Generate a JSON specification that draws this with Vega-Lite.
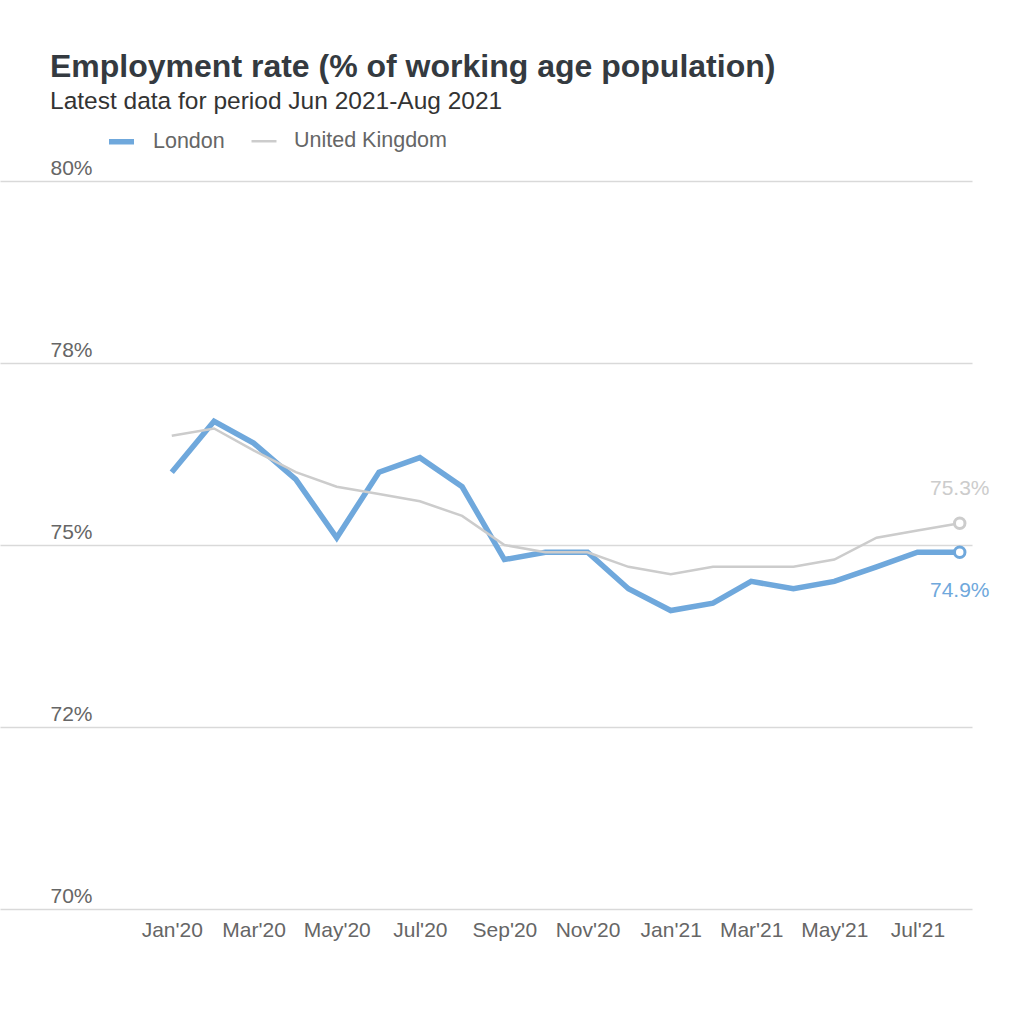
{
  "$schema": "https://vega.github.io/schema/vega-lite/v6.json",
  "width": 972,
  "height": 728,
  "autosize": {"type": "none"},
  "padding": {"left": 0, "top": 181, "right": 52, "bottom": 115},
  "background": "white",
  "title": {
    "text": "Employment rate (% of working age population)",
    "subtitle": "Latest data for period Jun 2021-Aug 2021",
    "anchor": "start",
    "frame": "group",
    "dx": 50,
    "offset": 12,
    "font": "Liberation Sans",
    "fontSize": 32,
    "fontWeight": "bold",
    "color": "#343a40",
    "subtitleFont": "Liberation Sans",
    "subtitleFontSize": 24.5,
    "subtitleColor": "#333333",
    "subtitlePadding": 6
  },
  "config": {
    "view": {"stroke": null},
    "font": "Liberation Sans"
  },
  "data": {
    "values": [
      {"month": "2020-01-01", "region": "London", "rate": 76.0},
      {"month": "2020-02-01", "region": "London", "rate": 76.7},
      {"month": "2020-03-01", "region": "London", "rate": 76.4},
      {"month": "2020-04-01", "region": "London", "rate": 75.9},
      {"month": "2020-05-01", "region": "London", "rate": 75.1},
      {"month": "2020-06-01", "region": "London", "rate": 76.0},
      {"month": "2020-07-01", "region": "London", "rate": 76.2},
      {"month": "2020-08-01", "region": "London", "rate": 75.8},
      {"month": "2020-09-01", "region": "London", "rate": 74.8},
      {"month": "2020-10-01", "region": "London", "rate": 74.9},
      {"month": "2020-11-01", "region": "London", "rate": 74.9},
      {"month": "2020-12-01", "region": "London", "rate": 74.4},
      {"month": "2021-01-01", "region": "London", "rate": 74.1},
      {"month": "2021-02-01", "region": "London", "rate": 74.2},
      {"month": "2021-03-01", "region": "London", "rate": 74.5},
      {"month": "2021-04-01", "region": "London", "rate": 74.4},
      {"month": "2021-05-01", "region": "London", "rate": 74.5},
      {"month": "2021-06-01", "region": "London", "rate": 74.7},
      {"month": "2021-07-01", "region": "London", "rate": 74.9},
      {"month": "2021-08-01", "region": "London", "rate": 74.9},
      {"month": "2020-01-01", "region": "United Kingdom", "rate": 76.5},
      {"month": "2020-02-01", "region": "United Kingdom", "rate": 76.6},
      {"month": "2020-03-01", "region": "United Kingdom", "rate": 76.3},
      {"month": "2020-04-01", "region": "United Kingdom", "rate": 76.0},
      {"month": "2020-05-01", "region": "United Kingdom", "rate": 75.8},
      {"month": "2020-06-01", "region": "United Kingdom", "rate": 75.7},
      {"month": "2020-07-01", "region": "United Kingdom", "rate": 75.6},
      {"month": "2020-08-01", "region": "United Kingdom", "rate": 75.4},
      {"month": "2020-09-01", "region": "United Kingdom", "rate": 75.0},
      {"month": "2020-10-01", "region": "United Kingdom", "rate": 74.9},
      {"month": "2020-11-01", "region": "United Kingdom", "rate": 74.9},
      {"month": "2020-12-01", "region": "United Kingdom", "rate": 74.7},
      {"month": "2021-01-01", "region": "United Kingdom", "rate": 74.6},
      {"month": "2021-02-01", "region": "United Kingdom", "rate": 74.7},
      {"month": "2021-03-01", "region": "United Kingdom", "rate": 74.7},
      {"month": "2021-04-01", "region": "United Kingdom", "rate": 74.7},
      {"month": "2021-05-01", "region": "United Kingdom", "rate": 74.8},
      {"month": "2021-06-01", "region": "United Kingdom", "rate": 75.1},
      {"month": "2021-07-01", "region": "United Kingdom", "rate": 75.2},
      {"month": "2021-08-01", "region": "United Kingdom", "rate": 75.3}
    ]
  },
  "encoding": {
    "x": {
      "field": "month",
      "type": "temporal",
      "scale": {
        "type": "utc",
        "domain": [
          {"year": 2019, "month": 8, "date": 28, "utc": true},
          {"year": 2021, "month": 8, "date": 10, "utc": true}
        ]
      },
      "axis": {
        "title": null,
        "values": [
          {"year": 2020, "month": 1, "date": 1, "utc": true},
          {"year": 2020, "month": 3, "date": 1, "utc": true},
          {"year": 2020, "month": 5, "date": 1, "utc": true},
          {"year": 2020, "month": 7, "date": 1, "utc": true},
          {"year": 2020, "month": 9, "date": 1, "utc": true},
          {"year": 2020, "month": 11, "date": 1, "utc": true},
          {"year": 2021, "month": 1, "date": 1, "utc": true},
          {"year": 2021, "month": 3, "date": 1, "utc": true},
          {"year": 2021, "month": 5, "date": 1, "utc": true},
          {"year": 2021, "month": 7, "date": 1, "utc": true}
        ],
        "format": "%b'%y",
        "grid": false,
        "domain": false,
        "ticks": false,
        "labelFontSize": 21,
        "labelColor": "#666666",
        "labelPadding": 10,
        "labelFont": "Liberation Sans"
      }
    },
    "y": {
      "field": "rate",
      "type": "quantitative",
      "scale": {"domain": [70, 80], "zero": false},
      "axis": {
        "title": null,
        "values": [70, 72.5, 75, 77.5, 80],
        "labelExpr": "datum.value == 77.5 ? '78%' : datum.value == 72.5 ? '72%' : datum.value + '%'",
        "grid": true,
        "gridColor": "#d9d9d9",
        "gridWidth": 1.5,
        "domain": false,
        "ticks": false,
        "tickSize": 0,
        "labelAlign": "left",
        "labelBaseline": "alphabetic",
        "labelPadding": -50,
        "labelOffset": -7,
        "labelFontSize": 21,
        "labelColor": "#666666",
        "labelFont": "Liberation Sans"
      }
    }
  },
  "layer": [
    {
      "mark": {"type": "line", "strokeJoin": "miter", "strokeCap": "butt"},
      "encoding": {
        "color": {
          "field": "region",
          "type": "nominal",
          "scale": {"domain": ["London", "United Kingdom"], "range": ["#6fa8dc", "#cccccc"]},
          "legend": {
            "title": null,
            "orient": "none",
            "legendX": 106,
            "legendY": -55,
            "direction": "horizontal",
            "symbolType": "stroke",
            "symbolSize": 625,
            "labelFontSize": 21.5,
            "labelColor": "#666666",
            "labelFont": "Liberation Sans",
            "columnPadding": 21,
            "labelOffset": 16
          }
        },
        "strokeWidth": {
          "field": "region",
          "type": "nominal",
          "scale": {"domain": ["London", "United Kingdom"], "range": [5.5, 2.5]},
          "legend": null
        },
        "order": {"field": "region", "sort": "descending"}
      }
    },
    {
      "transform": [{"filter": "utcmonth(datum.month) == 7 && utcyear(datum.month) == 2021"}],
      "mark": {"type": "point", "filled": true, "fill": "white", "size": 110, "strokeWidth": 3, "opacity": 1},
      "encoding": {
        "stroke": {
          "field": "region",
          "type": "nominal",
          "scale": {"domain": ["London", "United Kingdom"], "range": ["#6fa8dc", "#cccccc"]},
          "legend": null
        }
      }
    },
    {
      "transform": [
        {"filter": "utcmonth(datum.month) == 7 && utcyear(datum.month) == 2021 && datum.region == 'United Kingdom'"},
        {"calculate": "format(datum.rate, '.1f') + '%'", "as": "label"}
      ],
      "mark": {"type": "text", "dy": -34, "fontSize": 21, "font": "Liberation Sans", "color": "#cccccc"},
      "encoding": {"text": {"field": "label", "type": "nominal"}}
    },
    {
      "transform": [
        {"filter": "utcmonth(datum.month) == 7 && utcyear(datum.month) == 2021 && datum.region == 'London'"},
        {"calculate": "format(datum.rate, '.1f') + '%'", "as": "label"}
      ],
      "mark": {"type": "text", "dy": 39, "fontSize": 21, "font": "Liberation Sans", "color": "#6fa8dc"},
      "encoding": {"text": {"field": "label", "type": "nominal"}}
    }
  ]
}
